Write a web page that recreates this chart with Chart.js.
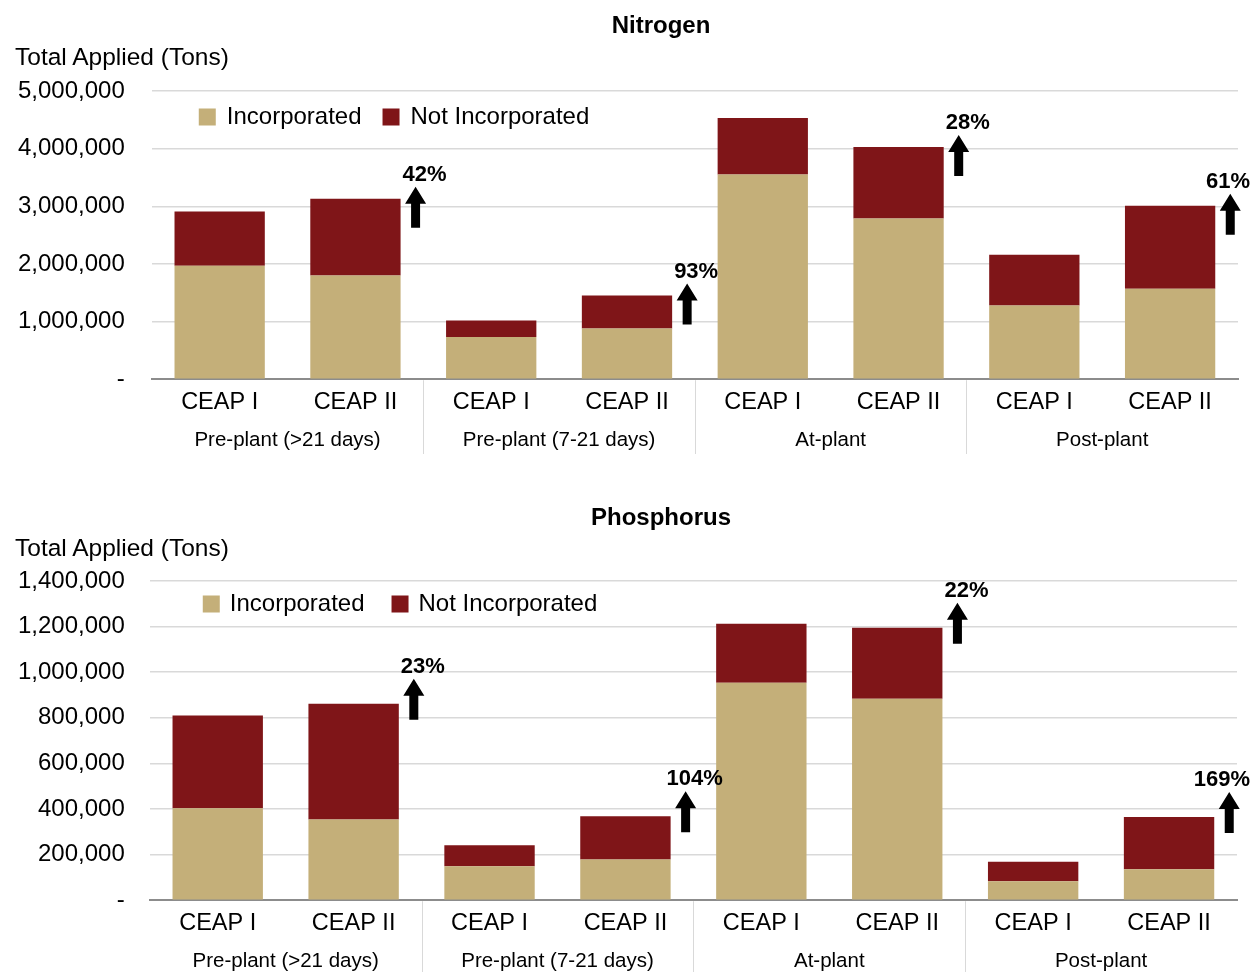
<!DOCTYPE html>
<html>
<head>
<meta charset="utf-8">
<script src="https://cdn.jsdelivr.net/npm/chart.js@4.4.1/dist/chart.umd.min.js"></script>
<style>
  html, body { margin: 0; padding: 0; background: #fff; overflow: hidden; }
  body { width: 1256px; height: 972px; position: relative; font-family: 'Liberation Sans', Arial, sans-serif; color: #000; }
  .wrap { position: absolute; left: 0; width: 1256px; }
  .title { position: absolute; font-weight: bold; font-size: 24px; transform: translate(-50%, -50%); white-space: nowrap; }
  .ylabel { position: absolute; left: 15px; font-size: 24.5px; transform: translateY(-50%); white-space: nowrap; }
</style>
</head>
<body>
<div class="wrap" style="top:0;height:486px"><canvas id="nitrogenChart"></canvas></div>
<div class="wrap" style="top:486px;height:520px"><canvas id="phosphorusChart"></canvas></div>
<div class="title" style="left:661px;top:25px">Nitrogen</div>
<div class="ylabel" style="top:57px">Total Applied (Tons)</div>
<div class="title" style="left:661px;top:517px">Phosphorus</div>
<div class="ylabel" style="top:548px">Total Applied (Tons)</div>

<script>
// Categories
const ceapLabels = ['CEAP I', 'CEAP II', 'CEAP I', 'CEAP II', 'CEAP I', 'CEAP II', 'CEAP I', 'CEAP II'];
const groupLabels = ['Pre-plant (>21 days)', 'Pre-plant (7-21 days)', 'At-plant', 'Post-plant'];

// Nitrogen (tons)
const nIncorporated    = [1970000, 1800000, 730000, 880000, 3550000, 2790000, 1280000, 1570000];
const nNotIncorporated = [940000, 1330000, 290000, 570000, 980000, 1240000, 880000, 1440000];
const nChangeLabels = ['42%', '93%', '28%', '61%'];
const nAxisMax = 5000000;
const nAxisStep = 1000000;

// Phosphorus (tons)
const pIncorporated    = [403000, 354000, 149000, 179000, 954000, 884000, 83000, 136000];
const pNotIncorporated = [407000, 508000, 92000, 189000, 258000, 311000, 86000, 229000];
const pChangeLabels = ['23%', '104%', '22%', '169%'];
const pAxisMax = 1400000;
const pAxisStep = 200000;

const TAN = '#C4AF79';
const RED = '#7F1518';
const SANS = "'Liberation Sans', Arial, sans-serif";

/**
 * Vertical separators between the four timing groups
 */
const groupSeparators = {
  id: 'groupSeparators',
  afterDraw(chart) {
    const x = chart.scales.x;
    const xg = chart.scales.xg;
    const ctx = chart.ctx;
    ctx.save();
    ctx.strokeStyle = '#d9d9d9';
    ctx.lineWidth = 1;
    for (let g = 1; g < groupLabels.length; g++) {
      const px = Math.round((x.getPixelForValue(2 * g - 1) + x.getPixelForValue(2 * g)) / 2) + 0.5;
      ctx.beginPath();
      ctx.moveTo(px, chart.chartArea.bottom + 1);
      ctx.lineTo(px, xg.bottom - 2);
      ctx.stroke();
    }
    ctx.restore();
  }
};

/**
 * Up arrows + % change next to each CEAP II bar
 */
const changeArrows = {
  id: 'changeArrows',
  afterDatasetsDraw(chart, args, opts) {
    const meta = chart.getDatasetMeta(1);
    const ctx = chart.ctx;
    ctx.save();
    ctx.fillStyle = '#000';
    ctx.font = 'bold 22px ' + SANS;
    ctx.textAlign = 'center';
    ctx.textBaseline = 'middle';
    opts.labels.forEach((txt, k) => {
      const bar = meta.data[2 * k + 1];
      const cx = bar.x + bar.width / 2 + 15;
      const tip = bar.y - opts.tipOffset;
      ctx.beginPath();
      ctx.moveTo(cx, tip);
      ctx.lineTo(cx + 10.5, tip + 17);
      ctx.lineTo(cx + 4.5, tip + 17);
      ctx.lineTo(cx + 4.5, tip + 41);
      ctx.lineTo(cx - 4.5, tip + 41);
      ctx.lineTo(cx - 4.5, tip + 17);
      ctx.lineTo(cx - 10.5, tip + 17);
      ctx.closePath();
      ctx.fill();
      // keep the label inside the canvas on the far right
      const half = ctx.measureText(txt).width / 2;
      const tx = Math.min(cx + 9, chart.width - half - 6);
      ctx.fillText(txt, tx, tip - 12);
    });
    ctx.restore();
  }
};

/**
 * Legend drawn inside the plot area, top-left
 */
const insideLegend = {
  id: 'insideLegend',
  afterDraw(chart, args, opts) {
    const ctx = chart.ctx;
    const area = chart.chartArea;
    let x = area.left + opts.dx;
    const cy = area.top + opts.dy;
    ctx.save();
    ctx.font = '24px ' + SANS;
    ctx.textBaseline = 'middle';
    ctx.textAlign = 'left';
    chart.data.datasets.forEach(ds => {
      ctx.fillStyle = ds.backgroundColor;
      ctx.fillRect(x, cy - 8.5, 17, 17);
      ctx.fillStyle = '#000';
      ctx.fillText(ds.label, x + opts.textGap, cy);
      x += opts.textGap + ctx.measureText(ds.label).width + opts.itemGap;
    });
    ctx.restore();
  }
};

function buildChart(canvasId, inc, notInc, changeLabels, axisMax, axisStep, look) {
  const ctx = document.getElementById(canvasId);
  return new Chart(ctx, {
    type: 'bar',
    data: {
      labels: ceapLabels,
      datasets: [
        { label: 'Incorporated', data: inc, backgroundColor: TAN, categoryPercentage: 1, barPercentage: 0.665 },
        { label: 'Not Incorporated', data: notInc, backgroundColor: RED, categoryPercentage: 1, barPercentage: 0.665 }
      ]
    },
    options: {
      responsive: true,
      maintainAspectRatio: false,
      animation: false,
      layout: { padding: look.padding },
      plugins: {
        tooltip: { enabled: false },
        title: { display: false },
        legend: { display: false },
        insideLegend: look.legend,
        changeArrows: { labels: changeLabels, tipOffset: look.tipOffset }
      },
      scales: {
        x: {
          stacked: true,
          weight: 0,
          grid: { display: false, drawTicks: false },
          border: { display: true, color: '#8c8c8c', width: 2 },
          ticks: { color: '#000', font: { family: SANS, size: 23.5 }, padding: 9, maxRotation: 0, autoSkip: false }
        },
        xg: {
          type: 'category',
          labels: groupLabels,
          position: 'bottom',
          offset: true,
          weight: 1,
          grid: { display: false, drawTicks: false },
          border: { display: false },
          ticks: { color: '#000', font: { family: SANS, size: 20.5 }, padding: 3, maxRotation: 0, autoSkip: false }
        },
        y: {
          stacked: true,
          min: 0,
          max: axisMax,
          grid: { color: '#d9d9d9', lineWidth: 1.5, drawTicks: false },
          border: { display: false },
          ticks: {
            stepSize: axisStep,
            padding: look.tickPad,
            color: '#000',
            font: { family: SANS, size: 24 },
            callback: v => v === 0 ? '-' : v.toLocaleString('en-US')
          },
          afterFit: scale => { scale.width -= look.tickPad; }
        }
      }
    },
    plugins: [groupSeparators, changeArrows, insideLegend]
  });
}

document.addEventListener('DOMContentLoaded', () => {
  buildChart('nitrogenChart', nIncorporated, nNotIncorporated, nChangeLabels, nAxisMax, nAxisStep, {
    padding: { top: 91, left: 18, right: 18, bottom: 30 },
    tickPad: 27,
    legend: { dx: 47, dy: 26, textGap: 28, itemGap: 21 },
    tipOffset: 12
  });
  buildChart('phosphorusChart', pIncorporated, pNotIncorporated, pChangeLabels, pAxisMax, pAxisStep, {
    padding: { top: 95, left: 18, right: 19, bottom: 29 },
    tickPad: 25,
    legend: { dx: 53, dy: 23, textGap: 27, itemGap: 27 },
    tipOffset: 25
  });
});
</script>
</body>
</html>
